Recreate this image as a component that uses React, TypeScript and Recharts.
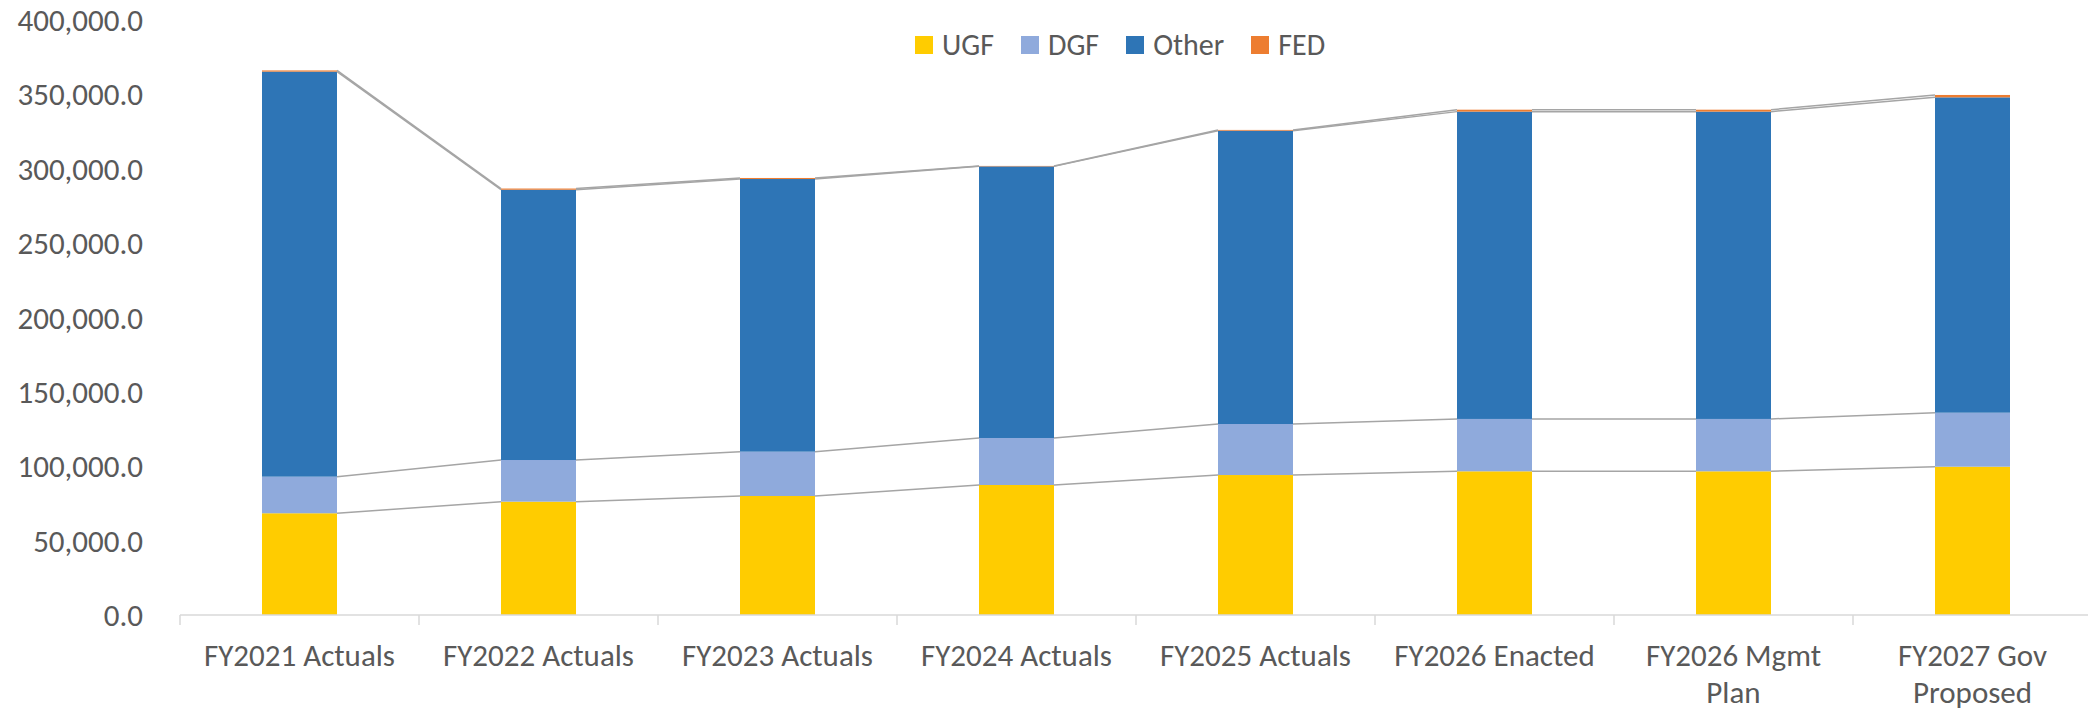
import React from "react";
import { BarChart, Bar, XAxis, YAxis, Legend } from "recharts";

// values in thousands-of-dollars units
const categories = [
  "FY2021 Actuals",
  "FY2022 Actuals",
  "FY2023 Actuals",
  "FY2024 Actuals",
  "FY2025 Actuals",
  "FY2026 Enacted",
  "FY2026 Mgmt Plan",
  "FY2027 Gov Proposed",
];
const ugf = [68400, 76200, 80000, 87400, 94100, 96600, 96600, 99700];
const dgf = [24600, 28000, 29800, 31600, 34300, 35200, 35200, 36300];
const other = [272300, 181700, 183300, 182600, 197200, 206600, 206600, 212000];
const fed = [800, 800, 700, 300, 500, 1300, 1300, 1600];
const yTicks = [0, 50000, 100000, 150000, 200000, 250000, 300000, 350000, 400000];

const series = [
  { key: "UGF", color: "#FFCC00" },
  { key: "DGF", color: "#8FAADC" },
  { key: "Other", color: "#2E75B6" },
  { key: "FED", color: "#ED7D31" },
];

const rows = categories.map((name, i) => ({
  name,
  UGF: ugf[i],
  DGF: dgf[i],
  Other: other[i],
  FED: fed[i],
}));

const CHART_W = 2094;
const CHART_H = 711;
const Y_AXIS_W = 180;
const MARGIN_RIGHT = 2;
const STEP = (CHART_W - Y_AXIS_W - MARGIN_RIGHT) / categories.length;
const Y_MAX = yTicks[yTicks.length - 1];
const FONT = "Calibri, Carlito, Lato, sans-serif";
const TEXT = "#595959";
const AXIS_FS = 31;

const fmt = (v: number) =>
  v.toLocaleString("en-US", { minimumFractionDigits: 1, maximumFractionDigits: 1 });

// Excel-style wrap for the long category names
const wrapLabel = (s: string) => {
  if (s.length <= 15) return [s];
  const cut = s.lastIndexOf(" ");
  return [s.slice(0, cut), s.slice(cut + 1)];
};

// bar segment plus the grey series line to the next column
const makeShape = (level: number) => (props: any) => {
  const { x, y, width, height, fill, index, background, value } = props;
  const next = rows[index + 1];
  let seg = null;
  if (next) {
    const cumNext = series
      .slice(0, level + 1)
      .reduce((s, sr) => s + (next as any)[sr.key], 0);
    let yNext: number | null = null;
    if (background && background.height > 0) {
      yNext = background.y + background.height * (1 - cumNext / Y_MAX);
    } else if (Array.isArray(value) && value[1] - value[0] > 0) {
      const ppu = height / (value[1] - value[0]);
      const base = y + height + value[0] * ppu;
      yNext = base - cumNext * ppu;
    }
    if (yNext !== null) {
      seg = (
        <line
          x1={x + width}
          y1={y}
          x2={x + STEP}
          y2={yNext}
          stroke="#A5A5A5"
          strokeWidth={1.5}
        />
      );
    }
  }
  return (
    <g>
      <rect x={x} y={y} width={width} height={height} fill={fill} />
      {seg}
    </g>
  );
};

const XTick = (props: any) => {
  const { x, y, payload, index } = props;
  const lines = wrapLabel(String(payload.value));
  return (
    <g>
      <line x1={x - STEP / 2} x2={x - STEP / 2} y1={y} y2={y + 10} stroke="#D9D9D9" strokeWidth={1.5} />
      {index === categories.length - 1 && (
        <line x1={x + STEP / 2} x2={x + STEP / 2} y1={y} y2={y + 10} stroke="#D9D9D9" strokeWidth={1.5} />
      )}
      <text x={x} y={y + 51} textAnchor="middle" fill={TEXT} fontSize={AXIS_FS} fontFamily={FONT}>
        {lines.map((l, i) => (
          <tspan key={i} x={x} dy={i === 0 ? 0 : 37}>
            {l}
          </tspan>
        ))}
      </text>
    </g>
  );
};

const LegendContent = () => (
  <div
    style={{
      display: "flex",
      alignItems: "center",
      gap: 27,
      fontFamily: FONT,
      fontSize: 30,
      lineHeight: "28px",
      color: TEXT,
      whiteSpace: "nowrap",
    }}
  >
    {series.map((s) => (
      <div key={s.key} style={{ display: "flex", alignItems: "center" }}>
        <span style={{ width: 18, height: 18, background: s.color, marginRight: 9, display: "inline-block" }} />
        {s.key}
      </div>
    ))}
  </div>
);

export default function App() {
  return (
    <div
      style={{
        position: "absolute",
        left: 0,
        top: 0,
        width: 2088,
        height: CHART_H,
        overflow: "hidden",
        background: "#fff",
        fontFamily: FONT,
      }}
    >
      <BarChart
        width={CHART_W}
        height={CHART_H}
        data={rows}
        margin={{ top: 20, right: MARGIN_RIGHT, left: 0, bottom: 0 }}
        barSize={75}
      >
        <XAxis
          dataKey="name"
          height={96}
          interval={0}
          tickSize={0}
          tickMargin={0}
          tickLine={false}
          axisLine={{ stroke: "#D9D9D9", strokeWidth: 1.5 }}
          tick={<XTick />}
        />
        <YAxis
          width={Y_AXIS_W}
          domain={[0, Y_MAX]}
          ticks={yTicks}
          tickFormatter={fmt}
          axisLine={false}
          tickLine={false}
          tickSize={0}
          tickMargin={37}
          tick={{ fill: TEXT, fontSize: AXIS_FS, fontFamily: FONT }}
        />
        <Legend
          layout="vertical"
          align="center"
          verticalAlign="middle"
          wrapperStyle={{ top: 31, left: 915, width: "auto" }}
          content={<LegendContent />}
        />
        {series.map((s, i) => (
          <Bar
            key={s.key}
            dataKey={s.key}
            stackId="a"
            fill={s.color}
            isAnimationActive={false}
            shape={makeShape(i)}
          />
        ))}
      </BarChart>
    </div>
  );
}
